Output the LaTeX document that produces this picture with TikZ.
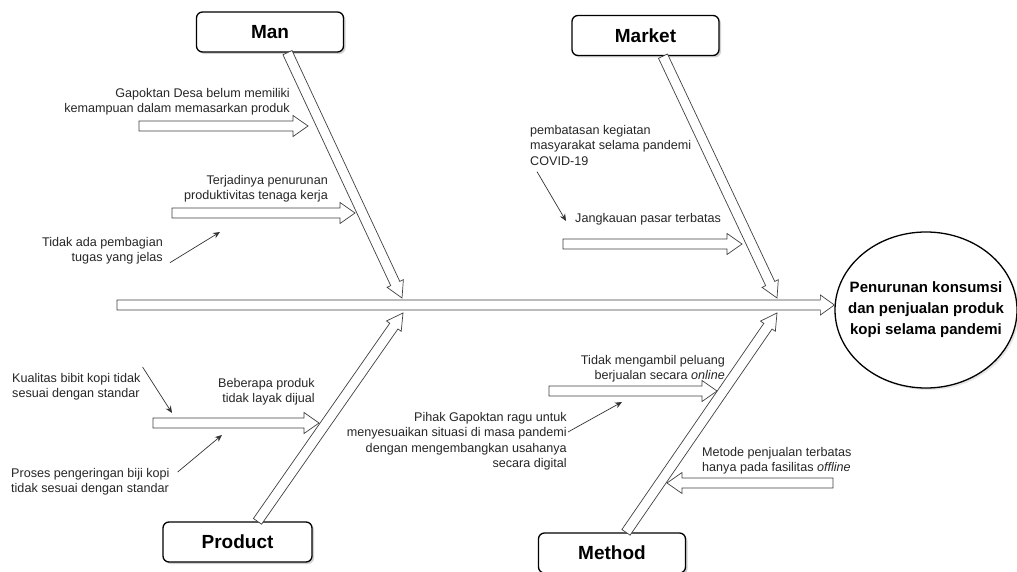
\documentclass[tikz,border=0pt]{standalone}
\usepackage{fontspec}
\setmainfont{Liberation Sans}
\usetikzlibrary{calc,shapes.geometric,shadows,arrows.meta}

\tikzset{
  cat/.style={draw, line width=1.3pt, rounded corners=6pt, fill=white,
    minimum width=147, minimum height=40,
    font=\fontsize{19}{22}\selectfont\bfseries,
    drop shadow={shadow xshift=2pt, shadow yshift=-2pt, fill=black!35}},
  cause/.style={inner sep=0pt, font=\fontsize{12.6}{15.5}\selectfont, text=black!85},
  hollow/.style={draw=black!75, line width=0.7pt, fill=white},
  pointer/.style={draw=black!80, line width=0.7pt, -{Stealth[length=7pt,width=6pt]}}
}

% hollow arrow: start, end, half shaft, head length, half head
\newcommand\fatarrow[5]{%
  \coordinate (fa) at ($(#2)!#4!(#1)$);
  \draw[hollow] ($(#1)!#3!90:(#2)$) -- ($(fa)!#3!90:(#2)$) -- ($(fa)!#5!90:(#2)$)
    -- (#2) -- ($(fa)!#5!-90:(#2)$) -- ($(fa)!#3!-90:(#2)$) -- ($(#1)!#3!-90:(#2)$) -- cycle;}

\begin{document}
\begin{tikzpicture}[x=1pt,y=-1pt]
	\useasboundingbox (0,0) rectangle (1017,572);

	% categories and effect
	\node[cat] (man) at (270,32) {Man};
	\node[cat] (market) at (645.5,35.5) {Market};
	\node[cat, minimum width=149] (product) at (237.5,542) {Product};
	\node[cat] (method) at (612,553) {Method};
	\node[ellipse, draw, line width=1.3pt, fill=white, minimum width=182, minimum height=156,
		inner xsep=-25pt, inner ysep=0pt, align=center,
		font=\fontsize{15}{21}\selectfont\bfseries,
		drop shadow={shadow xshift=2pt, shadow yshift=-2pt, fill=black!20}] (effect) at (926,310)
		{Penurunan konsumsi\\dan penjualan produk\\kopi selama pandemi};

	% spine
	\coordinate (spineL) at (117,305);
	\coordinate (spineR) at (effect.west |- spineL);
	\fatarrow{spineL}{spineR}{5pt}{14pt}{10pt}

	% bones
	\coordinate (manS) at ([xshift=17.5pt]man.south);
	\coordinate (manE) at (402,298);
	\coordinate (marketS) at ([xshift=17.5pt]market.south);
	\coordinate (marketE) at (777,298);
	\coordinate (productS) at ([xshift=20pt]product.north);
	\coordinate (productE) at (403,313);
	\coordinate (methodS) at ([xshift=14pt]method.north);
	\coordinate (methodE) at (777,313);
	\fatarrow{manS}{manE}{5pt}{16pt}{9pt}
	\fatarrow{marketS}{marketE}{5pt}{16pt}{9pt}
	\fatarrow{productS}{productE}{5pt}{16pt}{9pt}
	\fatarrow{methodS}{methodE}{5pt}{16pt}{9pt}

	% causes
	\coordinate (skillS) at (139,126);   \coordinate (skillE) at (308,126);
	\coordinate (workS) at (172,213);    \coordinate (workE) at (355,213);
	\coordinate (reachS) at (563,244);   \coordinate (reachE) at (742,244);
	\coordinate (unfitS) at (153,423);   \coordinate (unfitE) at (319,423);
	\coordinate (onlineS) at (549,391);  \coordinate (onlineE) at (717,391);
	\coordinate (offlineS) at (833,483); \coordinate (offlineE) at (667,483);
	\fatarrow{skillS}{skillE}{5pt}{15pt}{10.5pt}
	\fatarrow{workS}{workE}{5pt}{15pt}{10.5pt}
	\fatarrow{reachS}{reachE}{5pt}{15pt}{10.5pt}
	\fatarrow{unfitS}{unfitE}{5pt}{15pt}{10.5pt}
	\fatarrow{onlineS}{onlineE}{5pt}{15pt}{10.5pt}
	\fatarrow{offlineS}{offlineE}{5pt}{15pt}{10.5pt}

	\node[cause, anchor=north east, align=right] (skill) at (290,88)
		{Gapoktan Desa belum memiliki\\kemampuan dalam memasarkan produk};
	\node[cause, anchor=north east, align=right] (work) at (328,175)
		{Terjadinya penurunan\\produktivitas tenaga kerja};
	\node[cause, anchor=north east, align=right] (task) at (163,237)
		{Tidak ada pembagian\\tugas yang jelas};
	\node[cause, anchor=north west, align=left] (limit) at (530,125)
		{pembatasan kegiatan\\masyarakat selama pandemi\\COVID-19};
	\node[cause, anchor=north west, align=left] (reach) at (575,213)
		{Jangkauan pasar terbatas};
	\node[cause, anchor=north west, align=left] (seed) at (12,373)
		{Kualitas bibit kopi tidak\\sesuai dengan standar};
	\node[cause, anchor=north east, align=right] (unfit) at (315,378)
		{Beberapa produk\\tidak layak dijual};
	\node[cause, anchor=north west, align=left] (dry) at (11,468)
		{Proses pengeringan biji kopi\\tidak sesuai dengan standar};
	\node[cause, anchor=north east, align=right] (online) at (725,355)
		{Tidak mengambil peluang\\berjualan secara \textit{online}};
	\node[cause, anchor=north east, align=right] (doubt) at (567,412)
		{Pihak Gapoktan ragu untuk\\menyesuaikan situasi di masa pandemi\\dengan mengembangkan usahanya\\secara digital};
	\node[cause, anchor=north west, align=left] (offline) at (702,447)
		{Metode penjualan terbatas\\hanya pada fasilitas \textit{offline}};

	% sub causes
	\coordinate (taskE) at (220,232);
	\coordinate (limitE) at (566,221);
	\coordinate (seedE) at (172,413);
	\coordinate (dryE) at (222,435);
	\coordinate (doubtE) at (622,402);
	\draw[pointer] ([shift={(7,-2)}]task.south east) -- (taskE);
	\draw[pointer] ([shift={(7,6)}]limit.south west) -- (limitE);
	\draw[pointer] ([shift={(2,-6)}]seed.north east) -- (seedE);
	\draw[pointer] ([shift={(8,4)}]dry.north east) -- (dryE);
	\draw[pointer] ([shift={(1,20)}]doubt.north east) -- (doubtE);
\end{tikzpicture}
\end{document}
